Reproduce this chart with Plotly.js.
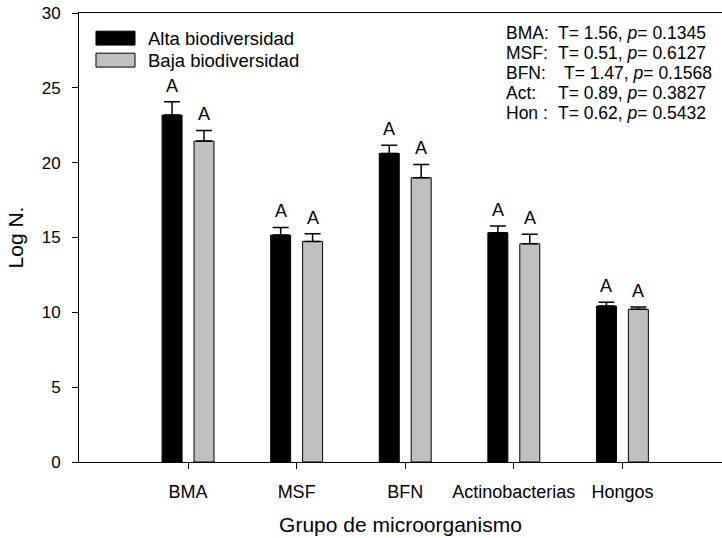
<!DOCTYPE html>
<html>
<head>
<meta charset="utf-8">
<script src="https://cdn.plot.ly/plotly-3.0.1.min.js"></script>
<style>html,body{margin:0;padding:0;background:#fff;}</style>
</head>
<body>
<div id="chart" style="width:722px;height:538px;"></div>
<script>
// ---- data ----
const categories = ['BMA', 'MSF', 'BFN', 'Actinobacterias', 'Hongos'];
const altaValues = [23.18, 15.16, 20.62, 15.32, 10.42];
const altaErrors = [0.89, 0.51, 0.55, 0.45, 0.25];
const bajaValues = [21.44, 14.74, 18.99, 14.58, 10.20];
const bajaErrors = [0.71, 0.51, 0.89, 0.63, 0.15];
const altaLetters = ['A', 'A', 'A', 'A', 'A'];
const bajaLetters = ['A', 'A', 'A', 'A', 'A'];
const seriesNames = ['Alta biodiversidad', 'Baja biodiversidad'];
const statGroups = ['BMA:', 'MSF:', 'BFN:', 'Act:', 'Hon :'];
const statT = ['1.56', '0.51', '1.47', '0.89', '0.62'];
const statP = ['0.1345', '0.6127', '0.1568', '0.3827', '0.5432'];
const yTicks = [0, 5, 10, 15, 20, 25, 30];

// ---- style ----
const FONT = 'Liberation Sans, Arial, sans-serif';
const barWidth = 0.184;
const altaOffset = -0.239;
const bajaOffset = 0.055;
const altaColor = '#000000';
const bajaColor = '#c0c0c0';

const zeros = categories.map(() => 0);
const traces = [
  {
    type: 'bar', name: seriesNames[0], x: categories, y: altaValues,
    width: barWidth, offset: altaOffset,
    marker: {color: altaColor, line: {color: '#000', width: 1}},
    error_y: {type: 'data', symmetric: false, array: altaErrors, arrayminus: zeros,
              color: '#000', thickness: 1.5, width: 8},
    showlegend: false, hoverinfo: 'skip'
  },
  {
    type: 'bar', name: seriesNames[1], x: categories, y: bajaValues,
    width: barWidth, offset: bajaOffset,
    marker: {color: bajaColor, line: {color: '#000', width: 1}},
    error_y: {type: 'data', symmetric: false, array: bajaErrors, arrayminus: zeros,
              color: '#000', thickness: 1.5, width: 8},
    showlegend: false, hoverinfo: 'skip'
  }
];

const annotations = [];
categories.forEach((c, i) => {
  annotations.push({
    x: i + altaOffset + barWidth / 2, y: altaValues[i] + altaErrors[i],
    xref: 'x', yref: 'y', text: altaLetters[i], showarrow: false,
    yanchor: 'bottom', yshift: 4, font: {family: FONT, size: 18, color: '#000'}
  });
  annotations.push({
    x: i + bajaOffset + barWidth / 2, y: bajaValues[i] + bajaErrors[i],
    xref: 'x', yref: 'y', text: bajaLetters[i], showarrow: false,
    yanchor: 'bottom', yshift: 4, font: {family: FONT, size: 18, color: '#000'}
  });
});

// custom legend (text + swatches in paper coords)
const legendY = [0.944, 0.895];
const legendColors = [altaColor, bajaColor];
const shapes = [];
seriesNames.forEach((n, i) => {
  shapes.push({
    type: 'rect', xref: 'paper', yref: 'paper',
    x0: 0.0264, x1: 0.0871, y0: legendY[i] - 0.0155, y1: legendY[i] + 0.0155,
    fillcolor: legendColors[i], line: {color: '#000', width: 1}
  });
  annotations.push({
    x: 0.1042, y: legendY[i], xref: 'paper', yref: 'paper', text: n,
    showarrow: false, xanchor: 'left', yanchor: 'middle',
    font: {family: FONT, size: 18.5, color: '#000'}
  });
});

// statistics block
const statY = [0.9555, 0.9109, 0.8664, 0.8218, 0.7773];
statGroups.forEach((g, i) => {
  annotations.push({
    x: 0.661, y: statY[i], xref: 'paper', yref: 'paper', text: g,
    showarrow: false, xanchor: 'left', yanchor: 'middle',
    font: {family: FONT, size: 17.5, color: '#000'}
  });
  annotations.push({
    x: g === 'BFN:' ? 0.751 : 0.742, y: statY[i], xref: 'paper', yref: 'paper',
    text: 'T= ' + statT[i] + ', <i>p</i>= ' + statP[i],
    showarrow: false, xanchor: 'left', yanchor: 'middle',
    font: {family: FONT, size: 17.5, color: '#000'}
  });
});

const layout = {
  width: 722, height: 538,
  margin: {l: 79, r: 0, t: 13, b: 76},
  paper_bgcolor: '#fff', plot_bgcolor: '#fff',
  barmode: 'overlay',
  showlegend: false,
  font: {family: FONT, color: '#000'},
  xaxis: {
    type: 'category', categoryorder: 'array', categoryarray: categories,
    range: [-1.004, 4.917],
    showline: true, linecolor: '#000', linewidth: 1, mirror: true,
    ticks: 'outside', ticklen: 6, tickcolor: '#000', tickwidth: 1,
    showgrid: false, zeroline: false,
    tickfont: {family: FONT, size: 18, color: '#000'},
    ticklabelstandoff: 7,
    title: {text: 'Grupo de microorganismo', font: {family: FONT, size: 21, color: '#000'}, standoff: 16}
  },
  yaxis: {
    range: [0, 30], tickvals: yTicks,
    showline: true, linecolor: '#000', linewidth: 1, mirror: false,
    ticks: 'outside', ticklen: 6, tickcolor: '#000', tickwidth: 1,
    showgrid: false, zeroline: false,
    tickfont: {family: FONT, size: 17, color: '#000'},
    ticklabelstandoff: 8,
    title: {text: 'Log N.', font: {family: FONT, size: 21, color: '#000'}, standoff: 12}
  },
  annotations: annotations,
  shapes: shapes
};

Plotly.newPlot('chart', traces, layout, {displayModeBar: false, staticPlot: true});
</script>
</body>
</html>
